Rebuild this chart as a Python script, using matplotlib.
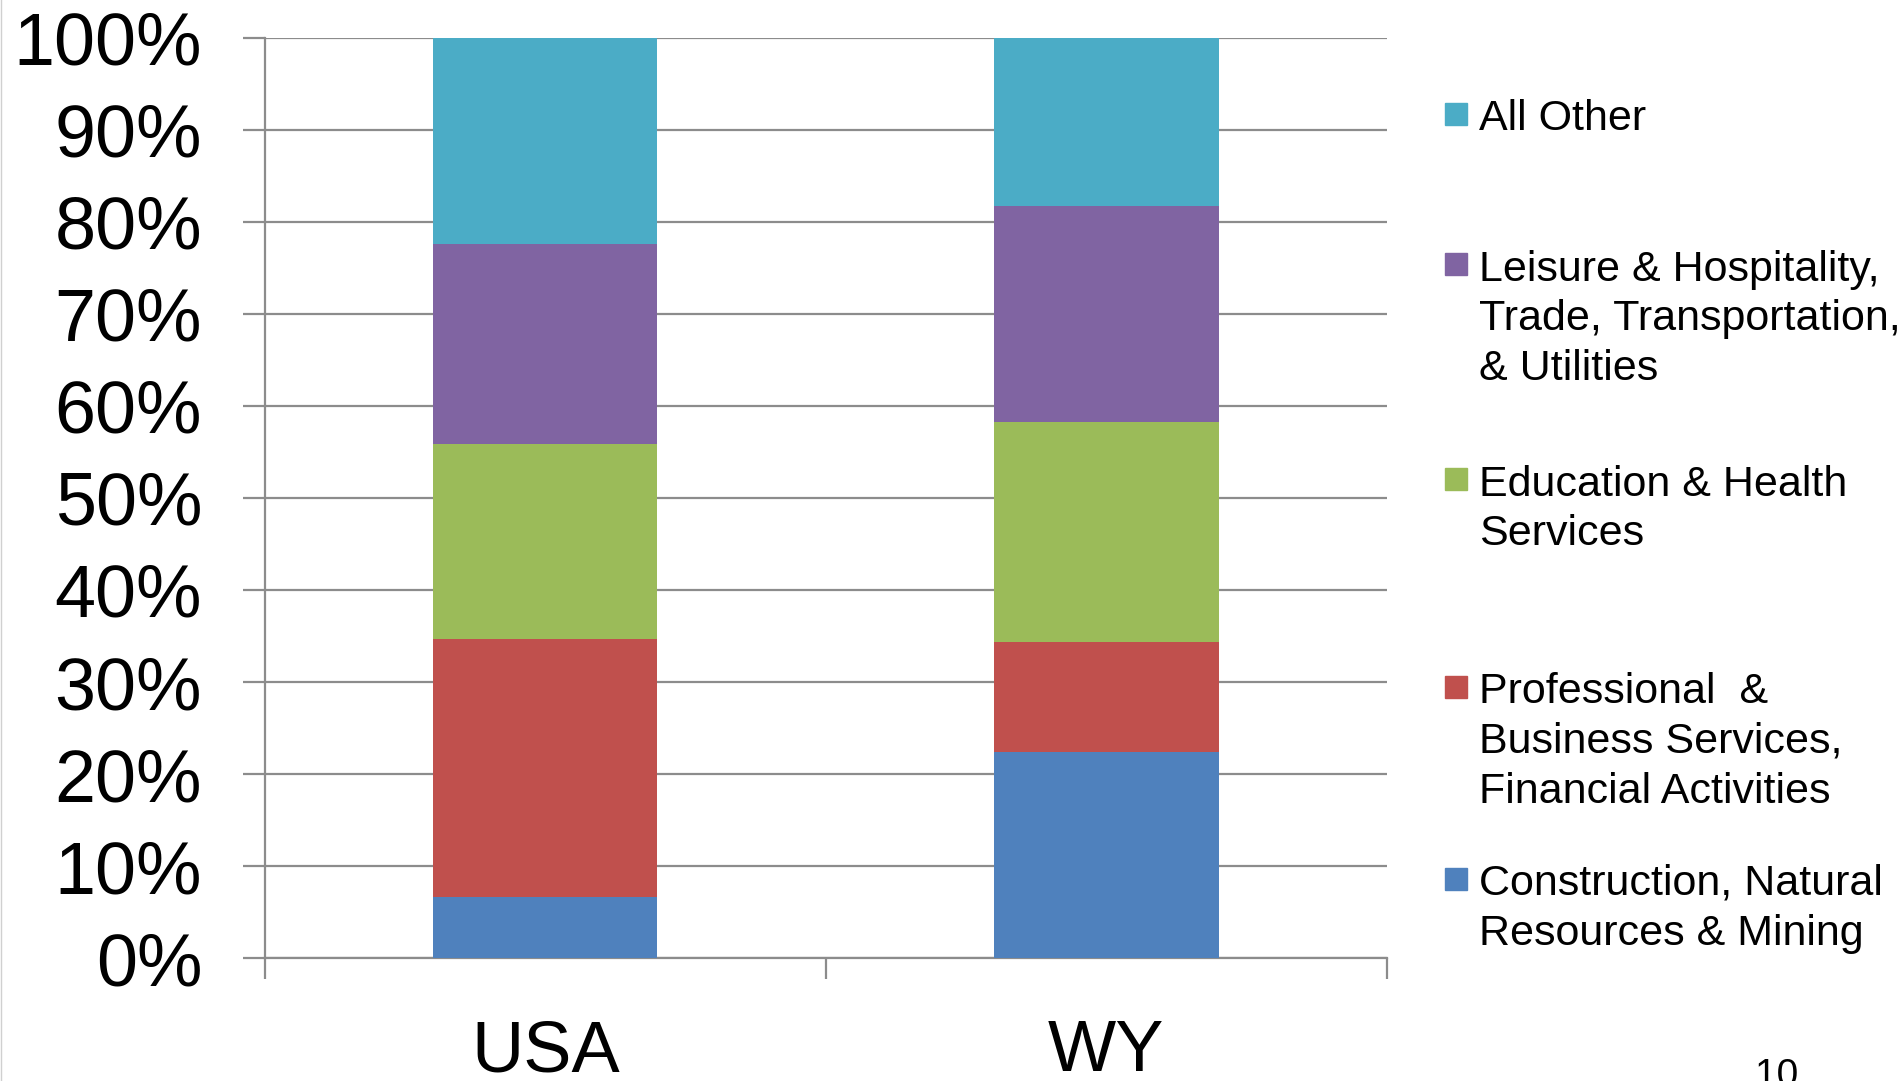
import matplotlib
matplotlib.use("Agg")
import matplotlib.pyplot as plt
from matplotlib.patches import Rectangle
from matplotlib.lines import Line2D
import numpy as np

plt.rcParams['font.family'] = ['Liberation Sans', 'DejaVu Sans']

regions = ['USA', 'WY']
# shares of employment, bottom to top
construction = [6.7, 22.4]
professional = [28.0, 11.9]
education = [21.2, 24.0]
leisure = [21.7, 23.4]
all_other = [22.4, 18.3]

series = [construction, professional, education, leisure, all_other]
names = ['Construction, Natural\nResources & Mining',
         'Professional  &\nBusiness Services,\nFinancial Activities',
         'Education & Health\nServices',
         'Leisure & Hospitality,\nTrade, Transportation,\n& Utilities',
         'All Other']
colors = ['#4F81BD', '#C0504D', '#9BBB59', '#8064A2', '#4BACC6']
yticks = [0, 10, 20, 30, 40, 50, 60, 70, 80, 90, 100]

fig = plt.figure(figsize=(19.03, 10.81), dpi=100)
ax = fig.add_axes([0.1391, 0.1136, 0.5897, 0.8516])

x = np.arange(len(regions))
bottom = np.zeros(len(regions))
for vals, c in zip(series, colors):
    v = np.array(vals) / 100
    ax.bar(x, v, 0.4, bottom=bottom, color=c, zorder=3)
    bottom += v

ax.set_xlim(-0.5, 1.5)
ax.set_ylim(0, 1)
ax.set_yticks([t / 100 for t in yticks])
ax.set_yticklabels([f'{t}%' for t in yticks])
ax.yaxis.grid(True, color='#8c8c8c', lw=1.6, zorder=0)
ax.set_axisbelow(True)
for s in ['top', 'right']:
    ax.spines[s].set_visible(False)
for s in ['left', 'bottom']:
    ax.spines[s].set_color('#8c8c8c')
    ax.spines[s].set_linewidth(1.6)

ax.tick_params(axis='y', length=16, width=1.6, color='#8c8c8c', labelsize=53, pad=29)
ax.set_xticks(x)
ax.set_xticklabels(regions)
ax.set_xticks([-0.5, 0.5, 1.5], minor=True)
ax.tick_params(axis='x', which='major', length=0, labelsize=52, pad=44)
ax.tick_params(axis='x', which='minor', length=15, width=1.6, color='#8c8c8c')

# legend drawn by hand to keep PowerPoint spacing
H = 1081.0
W = 1903.0
baselines = [895, 703, 495.5, 280.5, 130]
line_step = 49.8
for name, c, yb in zip(names, colors, baselines):
    for i, line in enumerate(name.split('\n')):
        fig.text(1479 / W, 1 - (yb + i * line_step) / H, line, fontsize=31,
                 va='baseline', ha='left')
    cy = yb - 16.4
    fig.patches.append(Rectangle((1445 / W, 1 - (cy + 11) / H), 22 / W, 22 / H,
                                 transform=fig.transFigure, color=c))

fig.text(1777 / W, 0.021, '10', fontsize=28, ha='center', va='top')
fig.lines.append(Line2D([1 / W, 1 / W], [0, 1], transform=fig.transFigure,
                        color='#d0d0d0', lw=1))

fig.savefig('out.png', dpi=100)
